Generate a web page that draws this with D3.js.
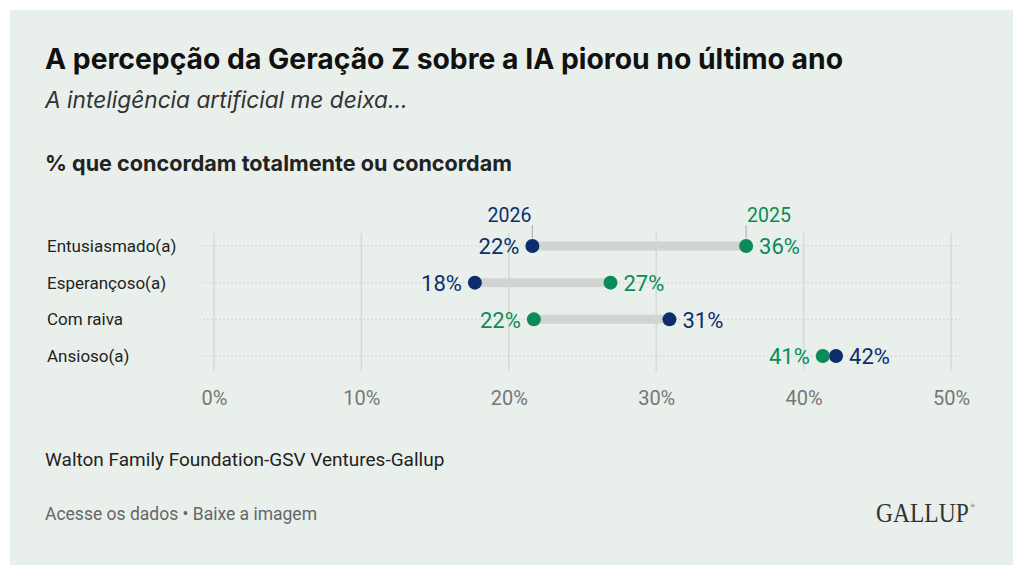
<!DOCTYPE html>
<html>
<head>
<meta charset="utf-8">
<script src="https://cdn.jsdelivr.net/npm/d3@7"></script>
<style>
  body { margin: 0; background: #fff; }
  svg { display: block; font-family: Roboto, "Noto Sans", sans-serif; }
</style>
</head>
<body>
<svg id="chart" width="1024" height="576"></svg>
<script>
// data
const categories = ['Entusiasmado(a)', 'Esperançoso(a)', 'Com raiva', 'Ansioso(a)']
const values2026 = [21.6, 17.7, 30.9, 42.2]
const values2025 = [36.1, 26.9, 21.7, 41.3]
const tickValues = [0, 10, 20, 30, 40, 50]

const navy = '#0d2d6c'
const green = '#0b8a5a'

const svg = d3.select('#chart')

// card background
svg.append('rect')
  .attr('x', 10).attr('y', 10)
  .attr('width', 1003).attr('height', 555)
  .attr('fill', '#e9f0ec')

// titles
svg.append('text')
  .attr('x', 45).attr('y', 69)
  .attr('font-family', 'Inter, sans-serif')
  .attr('font-size', 28.3).attr('font-weight', 700)
  .attr('fill', '#111')
  .text('A percepção da Geração Z sobre a IA piorou no último ano')

svg.append('text')
  .attr('x', 45).attr('y', 108)
  .attr('font-family', 'Inter, sans-serif')
  .attr('font-size', 22.7).attr('font-style', 'italic')
  .attr('fill', '#333')
  .text('A inteligência artificial me deixa...')

svg.append('text')
  .attr('x', 45).attr('y', 171)
  .attr('font-family', 'Inter, sans-serif')
  .attr('font-size', 21.6).attr('font-weight', 700)
  .attr('fill', '#222')
  .text('% que concordam totalmente ou concordam')

// scales
const x = d3.scaleLinear().domain([0, 50]).range([214, 951])
const y = d3.scalePoint().domain(categories).range([246, 356])

// vertical grid
svg.append('g')
  .selectAll('line')
  .data(tickValues)
  .join('line')
  .attr('x1', d => x(d)).attr('x2', d => x(d))
  .attr('y1', 233).attr('y2', 371)
  .attr('stroke', '#d5d9d7')
  .attr('stroke-width', 1.5)

// dotted row lines
svg.append('g')
  .selectAll('line')
  .data(categories)
  .join('line')
  .attr('x1', 203).attr('x2', 962)
  .attr('y1', d => y(d)).attr('y2', d => y(d))
  .attr('stroke', '#c8cdca')
  .attr('stroke-dasharray', '1.5,2.5')

// x axis
const xAxis = svg.append('g')
  .attr('transform', 'translate(0,398)')
  .call(d3.axisBottom(x).tickValues(tickValues).tickFormat(d => d + '%').tickSize(0))
xAxis.select('.domain').remove()
xAxis.selectAll('text')
  .attr('font-family', 'Roboto, sans-serif')
  .attr('font-size', 20)
  .attr('fill', '#777')
  .attr('dy', '0.35em')
  .attr('y', 0)

// category labels
svg.append('g')
  .selectAll('text')
  .data(categories)
  .join('text')
  .attr('x', 47)
  .attr('y', d => y(d))
  .attr('dy', '0.35em')
  .attr('font-size', 17)
  .attr('fill', '#222')
  .text(d => d)

const rows = categories.map((c, i) => ({ cat: c, v26: values2026[i], v25: values2025[i] }))

// connecting bars
svg.append('g')
  .selectAll('line')
  .data(rows)
  .join('line')
  .attr('x1', d => x(d.v26)).attr('x2', d => x(d.v25))
  .attr('y1', d => y(d.cat)).attr('y2', d => y(d.cat))
  .attr('stroke', '#d2d4d2')
  .attr('stroke-width', 9)

// series markers at top
const first = rows[0]
const legend = [
  { label: '2026', v: first.v26, color: navy, anchor: 'end' },
  { label: '2025', v: first.v25, color: green, anchor: 'start' }
]
svg.append('g')
  .selectAll('line')
  .data(legend)
  .join('line')
  .attr('x1', d => x(d.v)).attr('x2', d => x(d.v))
  .attr('y1', 225).attr('y2', 238)
  .attr('stroke', '#aaa')
svg.append('g')
  .selectAll('text')
  .data(legend)
  .join('text')
  .attr('x', d => x(d.v) + (d.anchor == 'end' ? -1 : 1))
  .attr('y', 222)
  .attr('text-anchor', d => d.anchor)
  .attr('font-size', 19.5)
  .attr('fill', d => d.color)
  .text(d => d.label)

// dots and value labels
const fmt = d => Math.round(d) + '%'
const points = []
rows.forEach(r => {
  const lo = Math.min(r.v26, r.v25)
  points.push({ cat: r.cat, v: r.v26, color: navy, side: r.v26 === lo ? -1 : 1 })
  points.push({ cat: r.cat, v: r.v25, color: green, side: r.v25 === lo ? -1 : 1 })
})

svg.append('g')
  .selectAll('circle')
  .data(points)
  .join('circle')
  .attr('cx', d => x(d.v))
  .attr('cy', d => y(d.cat))
  .attr('r', 7)
  .attr('fill', d => d.color)

svg.append('g')
  .selectAll('text')
  .data(points)
  .join('text')
  .attr('x', d => x(d.v) + d.side * 13)
  .attr('y', d => y(d.cat))
  .attr('dy', '0.38em')
  .attr('text-anchor', d => d.side < 0 ? 'end' : 'start')
  .attr('font-size', 22)
  .attr('fill', d => d.color)
  .text(d => fmt(d.v))

// footer
svg.append('text')
  .attr('x', 45).attr('y', 466)
  .attr('font-size', 19)
  .attr('fill', '#222')
  .text('Walton Family Foundation-GSV Ventures-Gallup')

svg.append('text')
  .attr('x', 45).attr('y', 520)
  .attr('font-size', 17.5)
  .attr('fill', '#666')
  .text('Acesse os dados • Baixe a imagem')

// logo: one text with the ® as a raised tspan, squeezed horizontally
const logo = svg.append('text')
  .attr('transform', 'translate(876,522) scale(0.84,1)')
  .attr('font-family', '"Liberation Serif", "DejaVu Serif", serif')
  .attr('font-size', 28)
  .attr('fill', '#333')
logo.append('tspan').text('GALLUP')
logo.append('tspan')
  .attr('font-size', 7)
  .attr('dx', 2)
  .attr('dy', -14)
  .text('®')
</script>
</body>
</html>
